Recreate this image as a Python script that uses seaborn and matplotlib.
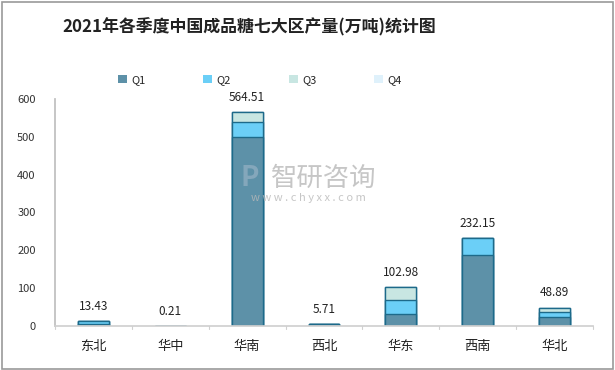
import numpy as np
import pandas as pd
import seaborn as sns
import matplotlib.pyplot as plt
from matplotlib.patches import Rectangle

# data
regions = ["东北", "华中", "华南", "西北", "华东", "西南", "华北"]
q1 = [5.0, 0.21, 500.0, 5.71, 32.0, 188.0, 24.0]
q2 = [8.43, 0.0, 40.0, 0.0, 38.0, 44.15, 13.0]
q3 = [0.0, 0.0, 24.51, 0.0, 32.98, 0.0, 11.89]
q4 = [0.0, 0.0, 0.0, 0.0, 0.0, 0.0, 0.0]
totals = [13.43, 0.21, 564.51, 5.71, 102.98, 232.15, 48.89]
quarters = ["Q1", "Q2", "Q3", "Q4"]
colors = ["#5d91a8", "#6bcff7", "#c8e6e2", "#dff1fb"]

sns.set_theme(style="white")
plt.rcParams['font.family'] = ['Noto Sans CJK SC', 'DejaVu Sans']

df = pd.DataFrame({"region": regions, "Q1": q1, "Q2": q2, "Q3": q3, "Q4": q4})
cum = df[quarters].cumsum(axis=1)

fig = plt.figure(figsize=(6.15, 3.70), dpi=100)
ax = fig.add_axes([55 / 615, 1 - 326 / 370, 538 / 615, 227 / 370])

# stacked bars: draw top layer first so lower layers sit in front
for i in range(len(quarters) - 1, -1, -1):
    q = quarters[i]
    sns.barplot(x=df["region"], y=cum[q], color=colors[i], width=0.4,
                saturation=1, edgecolor="#1d6a8a", linewidth=1.0, ax=ax)

ax.set_ylim(0, 600)
ax.set_yticks(range(0, 601, 100))
ax.set_xlabel("")
ax.set_ylabel("")
ax.tick_params(axis="y", labelsize=8, colors="#333333", length=0, pad=14)
ax.tick_params(axis="x", labelsize=9.5, colors="#222222", length=0, pad=10)
for s in ["top", "right"]:
    ax.spines[s].set_visible(False)
ax.spines["left"].set_color("#bfbfbf")
ax.spines["bottom"].set_color("#d0d0d0")
ax.set_xlim(-0.5, len(regions) - 0.5)
# category separators on x axis
for k in range(len(regions) + 1):
    ax.plot([k - 0.5, k - 0.5], [0, -8], color="#d0d0d0", lw=0.8, clip_on=False)

for k, t in enumerate(totals):
    ax.text(k, t + 22, f"{t:.2f}", ha="center", va="bottom", fontsize=8.5, color="#222222")

# legend
handles = [Rectangle((0, 0), 1, 1, facecolor=c, edgecolor="none") for c in colors]
fig.legend(handles, quarters, loc="center", bbox_to_anchor=(260 / 615, 1 - 80 / 370),
           ncol=4, frameon=False, fontsize=8, handlelength=0.8, handleheight=0.8,
           columnspacing=5.2, handletextpad=0.4)

fig.text(249 / 615, 1 - 27 / 370, "2021年各季度中国成品糖七大区产量(万吨)统计图",
         ha="center", va="center", fontsize=12.2, fontweight="bold", color="#222222")

# watermark
fig.text(324 / 615, 1 - 178 / 370, "智研咨询", ha="center", va="center",
         fontsize=19, color="#b8b8b8", alpha=0.8)
fig.text(250 / 615, 1 - 178 / 370, "P", ha="center", va="center", fontsize=20,
         fontweight="bold", color="#9fb6c8", alpha=0.6)
fig.text(308 / 615, 1 - 198 / 370, "w w w . c h y x x . c o m", ha="center", va="center",
         fontsize=8, color="#b8b8b8", alpha=0.8)

fig.patches.append(Rectangle((0.003, 0.004), 0.994, 0.99, transform=fig.transFigure,
                             fill=False, edgecolor="#9a9a9a", lw=1.2))

fig.savefig("out.png", dpi=100)
